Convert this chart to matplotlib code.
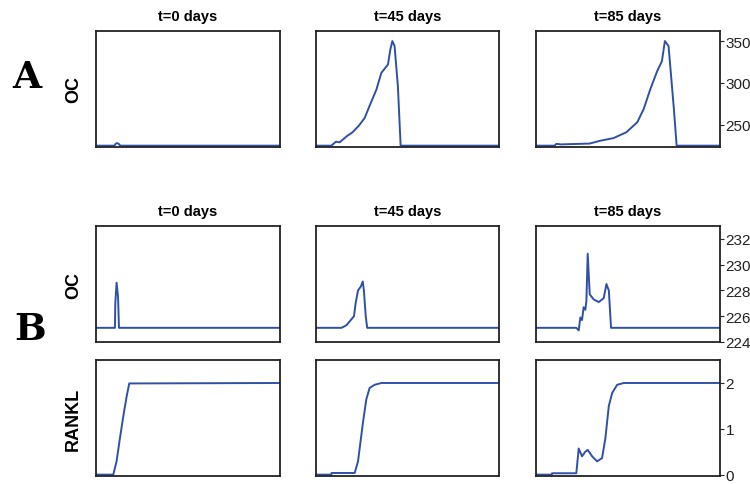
import matplotlib
matplotlib.use("Agg")
import matplotlib.pyplot as plt

plt.rcParams['font.family'] = ['Liberation Sans', 'DejaVu Sans']

line_col = '#3050a8'
titles = ["t=0 days", "t=45 days", "t=85 days"]

# panel A, OC (x as % of the panel width)
a0_x = [0, 10.0, 10.8, 11.5, 12.3, 13.2, 100]
a0_y = [225, 225, 227.5, 228, 227.3, 225, 225]
a45_x = [0, 8.5, 11.0, 13.0, 16.7, 20.0, 23.5, 26.6, 29.3, 33.0, 35.7, 39.3, 40.6, 41.7, 42.9, 44.7, 46.2, 100]
a45_y = [225, 225, 229.8, 229, 236, 241, 249, 258, 272.6, 292, 312, 322, 340, 350, 344, 296, 225, 225]
a85_x = [0, 10.0, 10.8, 12.3, 13.0, 29.0, 35.0, 42.0, 49.0, 55.0, 58.5, 62.0, 65.8, 68.4, 70.0, 72.0, 74.9, 76.4, 100]
a85_y = [225, 225, 227, 227, 226.5, 227.5, 231, 234, 241, 253, 269, 292, 314, 326, 350, 344, 269, 225, 225]

# panel B, OC
b0_x = [0, 10.3, 10.5, 11.2, 12.0, 12.5, 100]
b0_y = [225.1, 225.1, 227, 228.6, 227.5, 225.1, 225.1]
b45_x = [0, 14.0, 16.7, 20.8, 21.7, 23.0, 24.5, 25.6, 26.2, 27.2, 28.0, 100]
b45_y = [225.1, 225.1, 225.3, 226.0, 227.0, 228.0, 228.3, 228.7, 228.0, 226.0, 225.1, 225.1]
b85_x = [0, 21.8, 23.1, 24.0, 24.9, 25.8, 26.7, 27.3, 28.0, 29.1, 31.3, 34.0, 36.7, 38.2, 39.5, 40.7, 100]
b85_y = [225.1, 225.1, 224.9, 225.9, 225.7, 226.7, 226.5, 227.2, 230.85, 227.7, 227.3, 227.1, 227.4, 228.5, 228.0, 225.1, 225.1]

# panel B, RANKL
r0_x = [0, 9.4, 11.2, 13.0, 15.2, 16.7, 18.1, 100]
r0_y = [0, 0, 0.29, 0.79, 1.36, 1.71, 1.99, 2.0]
r45_x = [0, 8.5, 8.6, 21.2, 23.0, 25.7, 27.5, 29.3, 32.0, 35.7, 100]
r45_y = [0, 0, 0.036, 0.036, 0.29, 1.14, 1.64, 1.89, 1.96, 2.0, 2.0]
r85_x = [0, 8.5, 8.6, 21.8, 23.1, 24.9, 26.7, 28.0, 30.4, 33.1, 35.8, 37.6, 39.5, 41.3, 44.0, 47.6, 100]
r85_y = [0, 0, 0.03, 0.03, 0.57, 0.40, 0.50, 0.54, 0.40, 0.29, 0.36, 0.79, 1.5, 1.78, 1.96, 2.0, 2.0]

rows = [
    ([(a0_x, a0_y), (a45_x, a45_y), (a85_x, a85_y)], (223.5, 362), [250, 300, 350], "OC", 0.695),
    ([(b0_x, b0_y), (b45_x, b45_y), (b85_x, b85_y)], (224, 233), [224, 226, 228, 230, 232], "OC", 0.2928),
    ([(r0_x, r0_y), (r45_x, r45_y), (r85_x, r85_y)], (-0.03, 2.5), [0, 1, 2], "RANKL", 0.0165),
]

fig = plt.figure(figsize=(7.5, 4.85), dpi=100)
lefts = [0.128, 0.421, 0.715]

for r, (series, ylim, yticks, ylab, bottom) in enumerate(rows):
    for c, (xs, ys) in enumerate(series):
        ax = fig.add_axes([lefts[c], bottom, 0.245, 0.239])
        ax.plot(xs, ys, color=line_col, lw=1.4)
        ax.set_xlim(0, 100)
        ax.set_ylim(*ylim)
        ax.set_xticks([])
        for s in ax.spines.values():
            s.set_color('#222222')
            s.set_linewidth(1.3)
        if c == 2:
            ax.set_yticks(yticks)
            ax.tick_params(axis='y', left=False, right=True, labelleft=False,
                           labelright=True, direction='out', length=3,
                           labelsize=11, pad=1, colors='#222222')
        else:
            ax.set_yticks([])
        if c == 0:
            ax.set_ylabel(ylab, fontsize=13, fontweight='bold', labelpad=10)
        if r < 2:
            ax.set_title(titles[c], fontsize=10.5, fontweight='bold', pad=8)

fig.text(0.036, 0.84, "A", fontsize=27, fontweight='bold', family='DejaVu Serif',
         ha='center', va='center')
fig.text(0.04, 0.32, "B", fontsize=27, fontweight='bold', family='DejaVu Serif',
         ha='center', va='center')

fig.savefig("out.png", dpi=100)
